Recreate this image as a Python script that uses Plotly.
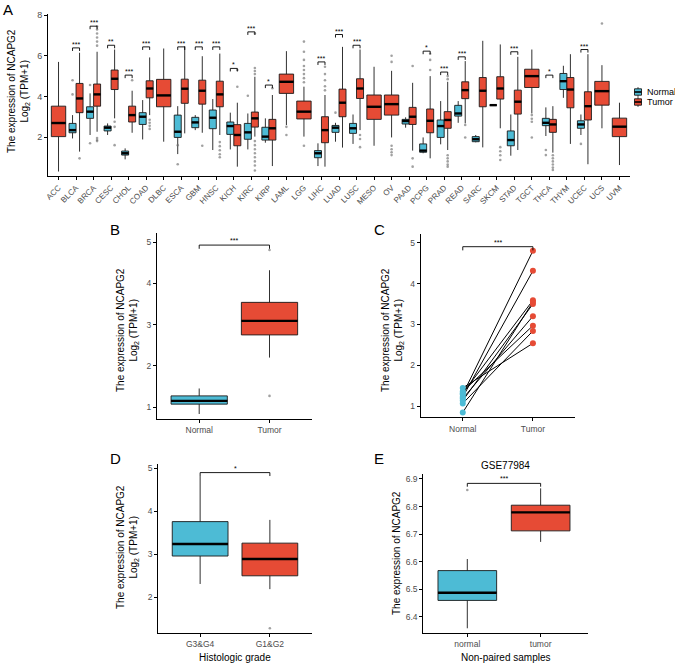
import plotly.graph_objects as go

NORMAL_COLOR = "#4DBBD5"
TUMOR_COLOR = "#E64B35"
FONT = "Liberation Sans, Arial, sans-serif"
W, H = 675, 664

# ---------------- Panel A data ----------------
cancers = ["ACC", "BLCA", "BRCA", "CESC", "CHOL", "COAD", "DLBC", "ESCA", "GBM", "HNSC",
           "KICH", "KIRC", "KIRP", "LAML", "LGG", "LIHC", "LUAD", "LUSC", "MESO", "OV",
           "PAAD", "PCPG", "PRAD", "READ", "SARC", "SKCM", "STAD", "TGCT", "THCA", "THYM",
           "UCEC", "UCS", "UVM"]

tumor_low = [0.30, 1.28, 2.26, 2.92, 2.21, 3.08, 1.77, 2.18, 2.21, 2.10,
             0.54, 2.02, 0.57, 2.59, 2.02, 0.54, 1.48, 2.34, 1.57, 1.98,
             1.33, 0.95, 1.36, 2.67, 1.49, 2.43, 1.36, 3.16, 1.23, 1.66,
             0.66, 2.43, 0.62]
tumor_q1 = [2.02, 3.20, 3.52, 4.34, 2.74, 3.93, 3.49, 3.66, 3.62, 3.49,
            1.57, 2.49, 1.85, 4.15, 2.89, 1.72, 3.00, 3.90, 2.87, 3.08,
            2.62, 2.21, 2.43, 3.89, 3.49, 3.87, 3.13, 4.44, 2.23, 3.44,
            2.84, 3.57, 2.02]
tumor_med = [2.69, 3.90, 4.10, 4.87, 3.08, 4.39, 4.05, 4.38, 4.28, 4.10,
             2.10, 2.92, 2.43, 4.72, 3.25, 2.34, 3.69, 4.39, 3.49, 3.62,
             3.00, 2.80, 2.84, 4.31, 4.28, 4.39, 3.74, 5.00, 2.62, 4.34,
             3.52, 4.26, 2.51]
tumor_q3 = [3.52, 4.64, 4.61, 5.30, 3.52, 4.77, 4.84, 4.85, 4.80, 4.75,
            2.61, 3.23, 2.87, 5.10, 3.77, 3.00, 4.36, 4.87, 4.07, 4.07,
            3.46, 3.38, 3.25, 4.72, 4.93, 4.97, 4.31, 5.34, 2.87, 4.93,
            4.23, 4.74, 2.93]
tumor_high = [5.70, 6.15, 6.20, 6.31, 4.28, 5.92, 6.36, 6.48, 5.98, 6.11,
              3.69, 4.97, 4.07, 6.23, 4.48, 4.07, 6.44, 6.31, 5.46, 5.26,
              4.67, 5.00, 4.72, 5.74, 6.74, 6.56, 5.95, 6.31, 3.52, 6.08,
              6.08, 5.54, 3.69]

N = None
normal_low = [N, 1.93, 2.10, 2.10, 0.90, 1.88, N, 1.16, 2.34, 1.36,
              1.39, 1.39, 1.72, N, N, 0.57, 1.77, 1.66, N, N,
              2.46, 1.20, 1.64, 2.70, 1.74, 3.57, 1.08, N, 2.05, 3.93,
              2.10, N, N]
normal_q1 = [N, 2.21, 2.92, 2.30, 1.11, 2.62, N, 1.98, 2.46, 2.41,
             2.13, 1.89, 1.85, N, N, 0.98, 2.23, 2.18, N, N,
             2.64, 1.25, 1.98, 3.03, 1.77, 3.57, 1.57, N, 2.56, 4.34,
             2.43, N, N]
normal_med = [N, 2.34, 3.25, 2.46, 1.20, 3.00, N, 2.26, 2.72, 2.95,
              2.54, 2.23, 2.02, N, N, 1.20, 2.46, 2.43, N, N,
              2.79, 1.33, 2.54, 3.16, 1.89, 3.57, 1.85, N, 2.70, 4.75,
              2.62, N, N]
normal_q3 = [N, 2.67, 3.49, 2.54, 1.31, 3.20, N, 3.08, 2.97, 3.33,
             2.74, 2.67, 2.48, N, N, 1.33, 2.57, 2.67, N, N,
             2.87, 1.66, 2.84, 3.56, 2.02, 3.57, 2.30, N, 2.92, 5.13,
             2.80, N, N]
normal_high = [N, 3.08, 4.15, 2.67, 1.44, 3.82, N, 3.52, 3.08, 3.87,
               3.20, 3.16, 2.92, N, N, 1.69, 2.70, 3.11, N, N,
               2.97, 1.98, 3.77, 3.77, 2.10, 3.57, 3.11, N, 3.46, 5.51,
               3.11, N, N]

# outliers (cancer, group, value)
out_cancer = (["BLCA"] * 3 + ["BRCA"] * 11 + ["CESC"] * 3 + ["CHOL"] + ["COAD"] * 4 +
              ["ESCA"] * 2 + ["GBM"] + ["HNSC"] * 5 + ["KICH"] * 2 + ["KIRC"] * 13 +
              ["KIRP"] + ["LAML"] * 2 + ["LGG"] * 9 + ["LIHC"] * 5 + ["LUAD"] +
              ["LUSC"] * 3 + ["OV"] * 6 + ["PAAD"] * 3 + ["PCPG"] * 3 + ["PRAD"] * 7 +
              ["READ"] * 2 + ["SKCM"] * 4 + ["TGCT"] * 4 + ["THCA"] * 8 + ["UCEC"] + ["UCS"])
out_group = (["N", "N", "T"] + ["N", "N"] + ["T"] * 9 + ["T"] * 3 + ["T"] + ["T"] * 4 +
             ["N"] * 2 + ["T"] + ["T"] * 5 + ["T"] * 2 + ["N"] + ["T"] * 12 +
             ["T"] + ["T"] * 2 + ["T"] * 9 + ["T"] * 5 + ["N"] +
             ["T"] * 3 + ["T"] * 6 + ["T"] * 3 + ["T"] * 3 + ["T"] * 7 +
             ["T"] * 2 + ["T"] * 4 + ["T"] * 4 + ["N", "N"] + ["T"] * 6 + ["N"] + ["T"])
out_value = ([4.80, 4.10, 0.95] + [4.56, 1.69, 6.50, 6.70, 6.90, 7.10, 7.30, 7.45, 1.85, 1.80, 1.95] +
             [2.75, 2.50, 1.60] + [4.80] + [2.85, 2.70, 2.55, 2.40] +
             [1.60, 0.66] + [1.57] + [1.75, 1.55, 1.35, 1.15, 1.00] + [5.30, 4.48] +
             [4.03, 7.10, 5.40, 5.25, 5.10, 1.80, 1.60, 1.40, 1.20, 1.00, 0.80, 0.60, 0.35] +
             [4.40] + [2.50, 2.10] + [6.70, 6.20, 5.80, 5.50, 5.30, 5.10, 4.90, 4.70, 1.57] +
             [5.46, 5.10, 4.80, 4.50, 4.30] + [3.20] + [2.10, 1.90, 1.50] +
             [6.00, 5.70, 1.57, 1.40, 1.25, 1.11] + [5.50, 0.95, 0.54] + [6.10, 5.80, 5.30] +
             [5.00, 4.85, 1.10, 0.95, 0.80, 0.65, 0.54] + [2.59, 1.98] +
             [1.50, 1.30, 1.10, 0.87] + [3.08, 2.90, 2.75, 1.98] +
             [1.36, 1.11, 1.10, 0.95, 0.80, 0.65, 0.50, 0.38] + [1.66] + [7.59])

sig_cancer = ["BLCA", "BRCA", "CESC", "CHOL", "COAD", "ESCA", "GBM", "HNSC", "KICH", "KIRC",
              "KIRP", "LIHC", "LUAD", "LUSC", "PCPG", "PRAD", "READ", "STAD", "THCA", "UCEC"]
sig_text = ["***", "***", "**", "***", "***", "***", "***", "***", "*", "***",
            "*", "***", "***", "***", "*", "***", "***", "***", "*", "***"]
sig_height = [6.39, 7.46, 6.52, 5.05, 6.44, 6.44, 6.44, 6.44, 5.38, 7.18,
              4.56, 5.70, 7.05, 6.52, 6.23, 5.20, 5.95, 6.20, 5.05, 6.31]

legend_labels = ["Normal", "Tumor"]

# ---------------- Panel B data ----------------
b_groups = ["Normal", "Tumor"]
b_low = [0.83, 2.20]
b_q1 = [1.07, 2.75]
b_med = [1.15, 3.09]
b_q3 = [1.27, 3.54]
b_high = [1.45, 4.32]
b_out_group = ["Tumor", "Tumor"]
b_out_value = [4.81, 1.27]

# ---------------- Panel C data (paired) ----------------
c_groups = ["Normal", "Tumor"]
c_normal = [1.45, 1.36, 1.32, 1.29, 1.23, 1.19, 1.14, 1.07, 0.85]
c_tumor = [2.54, 2.97, 3.59, 4.80, 4.31, 3.20, 3.50, 2.84, 3.55]

# ---------------- Panel D data ----------------
d_groups = ["G3&G4", "G1&G2"]
d_low = [2.31, 2.19]
d_q1 = [2.96, 2.50]
d_med = [3.24, 2.89]
d_q3 = [3.76, 3.26]
d_high = [4.82, 3.80]
d_out_group = ["G1&G2"]
d_out_value = [1.28]

# ---------------- Panel E data ----------------
e_groups = ["normal", "tumor"]
e_low = [6.359, 6.672]
e_q1 = [6.460, 6.712]
e_med = [6.488, 6.779]
e_q3 = [6.568, 6.805]
e_high = [6.610, 6.866]
e_out_group = ["normal"]
e_out_value = [6.860]

fig = go.Figure()

BOX_LINE = dict(color="#1a1a1a", width=0.9)
OUT_MARKER = dict(size=2.6, color="rgba(110,110,110,0.65)")


def add_medians(xs, meds, width, xa, ya):
    mx, my = [], []
    for x, m in zip(xs, meds):
        mx += [x - width / 2, x + width / 2, None]
        my += [m, m, None]
    fig.add_trace(go.Scatter(x=mx, y=my, mode="lines", line=dict(color="black", width=2.4),
                             showlegend=False, hoverinfo="skip", xaxis=xa, yaxis=ya))


def add_bracket(x0, x1, h, tip, text, xa, ya, fsize=7):
    fig.add_trace(go.Scatter(x=[x0, x0, x1, x1], y=[h - tip, h, h, h - tip], mode="lines",
                             line=dict(color="black", width=0.9), showlegend=False,
                             hoverinfo="skip", xaxis=xa, yaxis=ya))
    fig.add_annotation(x=(x0 + x1) / 2, y=h, text=text, showarrow=False, xref=xa, yref=ya,
                       xanchor="center", yanchor="bottom", yshift=-1,
                       font=dict(size=fsize, color="black", family=FONT))


# ----- Panel A -----
pos = {c: i + 1 for i, c in enumerate(cancers)}
has_normal = [nl is not None for nl in normal_low]
OFF, PW, SW = 0.2, 0.4, 0.82

pn = [pos[c] - OFF for c, hn in zip(cancers, has_normal) if hn]
fig.add_trace(go.Box(
    name="Normal", x=pn,
    q1=[v for v, hn in zip(normal_q1, has_normal) if hn],
    median=[v for v, hn in zip(normal_med, has_normal) if hn],
    q3=[v for v, hn in zip(normal_q3, has_normal) if hn],
    lowerfence=[v for v, hn in zip(normal_low, has_normal) if hn],
    upperfence=[v for v, hn in zip(normal_high, has_normal) if hn],
    width=PW, fillcolor=NORMAL_COLOR, line=BOX_LINE, whiskerwidth=0,
    boxpoints=False, showlegend=False, xaxis="x", yaxis="y"))

pt = [pos[c] + OFF for c, hn in zip(cancers, has_normal) if hn]
fig.add_trace(go.Box(
    name="Tumor", x=pt,
    q1=[v for v, hn in zip(tumor_q1, has_normal) if hn],
    median=[v for v, hn in zip(tumor_med, has_normal) if hn],
    q3=[v for v, hn in zip(tumor_q3, has_normal) if hn],
    lowerfence=[v for v, hn in zip(tumor_low, has_normal) if hn],
    upperfence=[v for v, hn in zip(tumor_high, has_normal) if hn],
    width=PW, fillcolor=TUMOR_COLOR, line=BOX_LINE, whiskerwidth=0,
    boxpoints=False, showlegend=False, xaxis="x", yaxis="y"))

ps = [pos[c] for c, hn in zip(cancers, has_normal) if not hn]
fig.add_trace(go.Box(
    name="Tumor", x=ps,
    q1=[v for v, hn in zip(tumor_q1, has_normal) if not hn],
    median=[v for v, hn in zip(tumor_med, has_normal) if not hn],
    q3=[v for v, hn in zip(tumor_q3, has_normal) if not hn],
    lowerfence=[v for v, hn in zip(tumor_low, has_normal) if not hn],
    upperfence=[v for v, hn in zip(tumor_high, has_normal) if not hn],
    width=SW, fillcolor=TUMOR_COLOR, line=BOX_LINE, whiskerwidth=0,
    boxpoints=False, showlegend=False, xaxis="x", yaxis="y"))

add_medians(pn, [v for v, hn in zip(normal_med, has_normal) if hn], PW, "x", "y")
add_medians(pt, [v for v, hn in zip(tumor_med, has_normal) if hn], PW, "x", "y")
add_medians(ps, [v for v, hn in zip(tumor_med, has_normal) if not hn], SW, "x", "y")

ox = []
for c, g in zip(out_cancer, out_group):
    solo = not has_normal[cancers.index(c)]
    ox.append(pos[c] if solo else pos[c] + (OFF if g == "T" else -OFF))
fig.add_trace(go.Scatter(x=ox, y=out_value, mode="markers", marker=OUT_MARKER,
                         showlegend=False, hoverinfo="skip", xaxis="x", yaxis="y"))

bx, by = [], []
for c, h in zip(sig_cancer, sig_height):
    x0, x1 = pos[c] - OFF, pos[c] + OFF
    bx += [x0, x0, x1, x1, None]
    by += [h - 0.15, h, h, h - 0.15, None]
fig.add_trace(go.Scatter(x=bx, y=by, mode="lines", line=dict(color="black", width=0.9),
                         showlegend=False, hoverinfo="skip", xaxis="x", yaxis="y"))
for c, t, h in zip(sig_cancer, sig_text, sig_height):
    fig.add_annotation(x=pos[c], y=h, text=t, showarrow=False, xref="x", yref="y",
                       xanchor="center", yanchor="bottom", yshift=-2,
                       font=dict(size=7, color="black", family=FONT))


# ----- Generic two-group box panel -----
def box_panel(groups, low, q1, med, q3, high, out_g, out_v, xa, ya):
    xs = list(range(len(groups)))
    colors = [NORMAL_COLOR, TUMOR_COLOR]
    for i in xs:
        fig.add_trace(go.Box(x=[i], q1=[q1[i]], median=[med[i]], q3=[q3[i]],
                             lowerfence=[low[i]], upperfence=[high[i]], width=0.8,
                             fillcolor=colors[i], line=BOX_LINE, whiskerwidth=0,
                             boxpoints=False, showlegend=False, xaxis=xa, yaxis=ya))
    add_medians(xs, med, 0.8, xa, ya)
    fig.add_trace(go.Scatter(x=[groups.index(g) for g in out_g], y=out_v, mode="markers",
                             marker=OUT_MARKER, showlegend=False, hoverinfo="skip",
                             xaxis=xa, yaxis=ya))


box_panel(b_groups, b_low, b_q1, b_med, b_q3, b_high, b_out_group, b_out_value, "x2", "y2")
add_bracket(0, 1, 4.93, 0.09, "***", "x2", "y2")

# ----- Panel C -----
lx, ly = [], []
for n, t in zip(c_normal, c_tumor):
    lx += [0, 1, None]
    ly += [n, t, None]
fig.add_trace(go.Scatter(x=lx, y=ly, mode="lines", line=dict(color="black", width=1),
                         showlegend=False, hoverinfo="skip", xaxis="x3", yaxis="y3"))
fig.add_trace(go.Scatter(x=[0] * len(c_normal), y=c_normal, mode="markers",
                         marker=dict(size=6, color=NORMAL_COLOR), showlegend=False,
                         xaxis="x3", yaxis="y3"))
fig.add_trace(go.Scatter(x=[1] * len(c_tumor), y=c_tumor, mode="markers",
                         marker=dict(size=6, color=TUMOR_COLOR), showlegend=False,
                         xaxis="x3", yaxis="y3"))
add_bracket(0, 1, 4.90, 0.09, "***", "x3", "y3")

# ----- Panel D -----
box_panel(d_groups, d_low, d_q1, d_med, d_q3, d_high, d_out_group, d_out_value, "x4", "y4")
add_bracket(0, 1, 4.90, 0.08, "*", "x4", "y4")

# ----- Panel E -----
box_panel(e_groups, e_low, e_q1, e_med, e_q3, e_high, e_out_group, e_out_value, "x5", "y5")
add_bracket(0, 1, 6.884, 0.012, "***", "x5", "y5")


# ----- Axes -----
def px_dom(a, b, total):
    return [a / total, b / total]


def ydom(top, bottom):
    return [1 - bottom / H, 1 - top / H]


AX = dict(showline=True, linecolor="black", linewidth=1, ticks="outside", ticklen=3,
          tickcolor="black", tickwidth=1, showgrid=False, zeroline=False, automargin=False,
          tickfont=dict(size=8.5, color="#4D4D4D", family=FONT))

fig.update_layout(
    xaxis=dict(AX, domain=px_dom(48, 630, W), range=[0.4, 33.6], anchor="y",
               tickvals=[pos[c] for c in cancers], ticktext=cancers, tickangle=-45,
               tickfont=dict(size=8, color="#4D4D4D", family=FONT)),
    yaxis=dict(AX, domain=ydom(14, 176), range=[0.08, 8.06], anchor="x",
               tickvals=[2, 4, 6, 8], tickfont=dict(size=9, color="#4D4D4D", family=FONT)),
    xaxis2=dict(AX, domain=px_dom(157, 311.7, W), range=[-0.6, 1.6], anchor="y2",
                tickvals=[0, 1], ticktext=b_groups),
    yaxis2=dict(AX, domain=ydom(233.3, 419), range=[0.709, 5.216], anchor="x2",
                tickvals=[1, 2, 3, 4, 5]),
    xaxis3=dict(AX, domain=px_dom(420.7, 575, W), range=[-0.6, 1.6], anchor="y3",
                tickvals=[0, 1], ticktext=c_groups),
    yaxis3=dict(AX, domain=ydom(234, 417.3), range=[0.731, 5.21], anchor="x3",
                tickvals=[1, 2, 3, 4, 5]),
    xaxis4=dict(AX, domain=px_dom(158.3, 311.7, W), range=[-0.6, 1.6], anchor="y4",
                tickvals=[0, 1], ticktext=d_groups),
    yaxis4=dict(AX, domain=ydom(464, 632.7), range=[1.177, 5.1], anchor="x4",
                tickvals=[2, 3, 4, 5]),
    xaxis5=dict(AX, domain=px_dom(423.3, 588.3, W), range=[-0.6, 1.65], anchor="y5",
                tickvals=[0, 1], ticktext=e_groups),
    yaxis5=dict(AX, domain=ydom(474, 632.7), range=[6.343, 6.918], anchor="x5",
                tickvals=[6.4, 6.5, 6.6, 6.7, 6.8, 6.9], tickformat=".1f"),
    width=W, height=H,
    margin=dict(l=0, r=0, t=0, b=0),
    paper_bgcolor="white", plot_bgcolor="white",
    font=dict(family=FONT, color="black"),
    boxmode="overlay",
    showlegend=False,
)


def ann(xp, yp, text, size=10, angle=0):
    fig.add_annotation(x=xp / W, y=1 - yp / H, xref="paper", yref="paper", text=text,
                       showarrow=False, textangle=angle, xanchor="center", yanchor="middle",
                       font=dict(size=size, color="black", family=FONT))


# legend (drawn keys + real text labels)
for lab, col, yc in zip(legend_labels, [NORMAL_COLOR, TUMOR_COLOR], [92, 102]):
    fig.add_shape(type="line", xref="paper", yref="paper", x0=638 / W, x1=638 / W,
                  y0=1 - (yc - 4.8) / H, y1=1 - (yc + 4.8) / H, line=dict(color="#1a1a1a", width=0.9))
    fig.add_shape(type="rect", xref="paper", yref="paper", x0=634.5 / W, x1=641.5 / W,
                  y0=1 - (yc - 3.2) / H, y1=1 - (yc + 3.2) / H, fillcolor=col,
                  line=dict(color="#1a1a1a", width=0.9))
    fig.add_shape(type="line", xref="paper", yref="paper", x0=634.5 / W, x1=641.5 / W,
                  y0=1 - yc / H, y1=1 - yc / H, line=dict(color="black", width=1.6))
    fig.add_annotation(x=645 / W, y=1 - yc / H, xref="paper", yref="paper", text=lab,
                       showarrow=False, xanchor="left", yanchor="middle",
                       font=dict(size=9, color="black", family=FONT))

ytitle2 = "The expression of NCAPG2<br>Log<sub>2</sub> (TPM+1)"
ann(18, 91, ytitle2, 10, -90)
ann(127, 330, ytitle2, 10, -90)
ann(392, 330, ytitle2, 10, -90)
ann(127, 547, ytitle2, 10, -90)
ann(396, 553, "The expression of NCAPG2", 10, -90)

ann(234.5, 657.5, "Histologic grade", 10)
ann(505.8, 657.5, "Non-paired samples", 10)
ann(505.8, 466, "GSE77984", 10)

for lab, xp, yp in [("A", 8, 10), ("B", 115, 230), ("C", 379, 229), ("D", 115, 458), ("E", 379, 458)]:
    ann(xp, yp, lab, 15)

fig.write_html("out.html")
